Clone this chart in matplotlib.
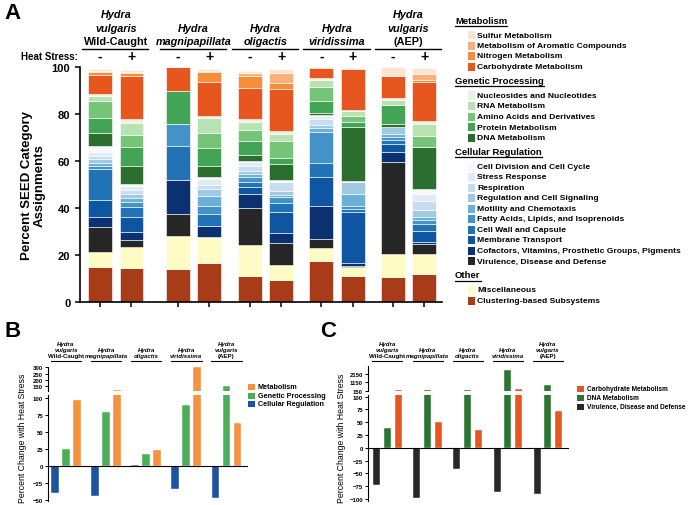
import numpy as np
import matplotlib
matplotlib.use('Agg')
import matplotlib.pyplot as plt
from matplotlib.patches import Rectangle
from matplotlib.lines import Line2D
from matplotlib.transforms import blended_transform_factory

plt.rcParams['font.family'] = ['Liberation Sans', 'DejaVu Sans']

# ---------------- data: panel A (percent of SEED assignments, bottom -> top) -------------
# bar order: WC -, WC +, mag -, mag +, olig -, olig +, vir -, vir +, AEP -, AEP +
clustering = [14.8, 14.5, 14.0, 16.6, 10.9, 9.5, 17.6, 10.9, 10.5, 11.9]
miscellaneous = [6.3, 8.8, 14.2, 10.9, 13.5, 6.4, 5.2, 3.9, 9.9, 8.5]
virulence = [10.7, 3.1, 9.2, 0.0, 15.5, 9.2, 4.0, 0.7, 39.0, 4.3]
cofactors = [4.2, 3.2, 14.7, 5.0, 6.1, 4.3, 14.2, 1.0, 4.6, 0.7]
membrane = [7.5, 6.4, 0.0, 0.0, 2.8, 8.8, 12.0, 21.7, 3.2, 5.0]
cell_wall = [13.1, 4.3, 14.1, 4.9, 2.4, 3.9, 6.1, 1.3, 1.8, 2.8]
fatty_acids = [1.1, 2.1, 9.5, 3.6, 1.8, 2.4, 13.4, 1.5, 1.1, 1.8]
motility = [1.4, 1.7, 0.0, 4.2, 1.5, 1.0, 1.4, 5.0, 1.4, 1.0]
regulation = [1.8, 1.9, 0.0, 2.9, 1.4, 1.9, 1.4, 4.9, 2.8, 3.3]
respiration = [1.4, 1.8, 0.0, 1.7, 2.1, 3.5, 2.6, 0.0, 0.0, 3.8]
stress = [1.4, 1.4, 0.0, 2.5, 1.4, 0.7, 1.1, 0.0, 0.0, 2.9]
cell_division = [2.5, 1.0, 0.0, 0.7, 0.7, 0.5, 0.6, 0.6, 0.0, 2.1]
dna_met = [5.7, 7.8, 0.0, 4.7, 2.5, 6.6, 0.7, 22.8, 1.4, 17.7]
protein_met = [6.3, 7.8, 14.2, 7.7, 6.1, 2.6, 5.4, 2.4, 8.1, 0.0]
amino_acids = [7.5, 5.3, 0.0, 6.5, 4.6, 7.4, 5.6, 2.6, 0.0, 5.0]
rna_met = [1.8, 4.9, 0.0, 6.3, 3.2, 2.8, 3.3, 2.1, 2.3, 4.9]
nucleosides = [1.2, 1.9, 0.0, 0.8, 1.4, 1.4, 0.6, 0.4, 0.6, 1.5]
carbohydrate = [8.0, 18.1, 10.0, 14.5, 13.0, 17.7, 4.2, 17.3, 9.3, 16.6]
nitrogen = [1.0, 1.4, 0.0, 4.2, 5.1, 2.6, 0.2, 0.2, 0.0, 0.8]
aromatic = [0.7, 0.6, 0.0, 0.7, 1.4, 4.2, 0.2, 0.2, 0.0, 2.4]
sulfur = [0.8, 0.8, 0.0, 0.7, 1.0, 1.7, 0.2, 0.1, 3.9, 2.4]

seg_names = ['Clustering-based Subsystems', 'Miscellaneous',
             'Virulence, Disease and Defense',
             'Cofactors, Vitamins, Prosthetic Groups, Pigments',
             'Membrane Transport', 'Cell Wall and Capsule',
             'Fatty Acids, Lipids, and Isoprenoids', 'Motility and Chemotaxis',
             'Regulation and Cell Signaling', 'Respiration', 'Stress Response',
             'Cell Division and Cell Cycle', 'DNA Metabolism', 'Protein Metabolism',
             'Amino Acids and Derivatives', 'RNA Metabolism',
             'Nucleosides and Nucleotides', 'Carbohydrate Metabolism',
             'Nitrogen Metabolism', 'Metabolism of Aromatic Compounds',
             'Sulfur Metabolism']
seg_values = [clustering, miscellaneous, virulence, cofactors, membrane, cell_wall,
              fatty_acids, motility, regulation, respiration, stress, cell_division,
              dna_met, protein_met, amino_acids, rna_met, nucleosides, carbohydrate,
              nitrogen, aromatic, sulfur]
seg_colors = ['#a83b18', '#fffbc4', '#262626', '#0b3170', '#0f56a2', '#2272b6',
              '#4493c8', '#6cafd7', '#9fcae1', '#c7dcef', '#dfebf7', '#f5f9fe',
              '#2b6e2f', '#42a454', '#75c477', '#b9e2b2', '#e6f5e1', '#e8561f',
              '#f58d3c', '#fab07a', '#fde3d0']

legend_groups = [('Metabolism', ['Sulfur Metabolism', 'Metabolism of Aromatic Compounds',
                                 'Nitrogen Metabolism', 'Carbohydrate Metabolism']),
                 ('Genetic Processing', ['Nucleosides and Nucleotides', 'RNA Metabolism',
                                         'Amino Acids and Derivatives', 'Protein Metabolism',
                                         'DNA Metabolism']),
                 ('Cellular Regulation', ['Cell Division and Cell Cycle', 'Stress Response',
                                          'Respiration', 'Regulation and Cell Signaling',
                                          'Motility and Chemotaxis',
                                          'Fatty Acids, Lipids, and Isoprenoids',
                                          'Cell Wall and Capsule', 'Membrane Transport',
                                          'Cofactors, Vitamins, Prosthetic Groups, Pigments',
                                          'Virulence, Disease and Defense']),
                 ('Other', ['Miscellaneous', 'Clustering-based Subsystems'])]

species_lines = [[('Hydra', 'italic'), ('vulgaris', 'italic'), ('Wild-Caught', 'normal')],
                 [('Hydra', 'italic'), ('magnipapillata', 'italic')],
                 [('Hydra', 'italic'), ('oligactis', 'italic')],
                 [('Hydra', 'italic'), ('viridissima', 'italic')],
                 [('Hydra', 'italic'), ('vulgaris', 'italic'), ('(AEP)', 'normal')]]
heat_signs = ['-', '+']

# ---------------- data: panel B / C (percent change with heat stress) -------------
b_cell_reg = [-39.5, -45, 1, -34, -48]
b_genetic = [24, 79, 18, 90, 150]
b_metabolism = [96, 118, 23, 300, 63]

c_virulence = [-72, -99, -42, -87, -90]
c_dna = [39, 270, 180, 2620, 850]
c_carb = [180, 50, 35, 280, 72]

W, H = 689, 506
fig = plt.figure(figsize=(W / 100, H / 100), dpi=100)


def px_axes(l, t, r, b):
    return fig.add_axes([l / W, 1 - b / H, (r - l) / W, (b - t) / H])


def ftext(x, y, s, **kw):
    return fig.text(x / W, 1 - y / H, s, **kw)


def fline(x0, x1, y, lw=1.0):
    fig.add_artist(Line2D([x0 / W, x1 / W], [1 - y / H, 1 - y / H], color='black', lw=lw))


# ================= Panel A =================
axA = px_axes(80, 68, 442, 303)
pair_x = np.array([0, 2.47, 4.76, 7.03, 9.3])
xA = np.ravel(np.column_stack([pair_x, pair_x + 1]))
bottom = np.zeros(10)
for vals, col in zip(seg_values, seg_colors):
    axA.bar(xA, vals, width=0.76, bottom=bottom, color=col, edgecolor='white', linewidth=0.4)
    bottom += np.array(vals)
axA.set_xlim(-0.635, 10.86)
axA.set_ylim(0, 100)
axA.spines['top'].set_visible(False)
axA.spines['right'].set_visible(False)
for s in ['left', 'bottom']:
    axA.spines[s].set_linewidth(1.2)
axA.set_yticks([0, 20, 40, 60, 80, 100])
axA.set_xticks(xA)
axA.set_xticklabels([])
axA.tick_params(axis='both', width=1.1, length=3.5)
for lab in axA.get_yticklabels():
    lab.set_fontweight('bold')
    lab.set_fontsize(8)
axA.set_ylabel('Percent SEED Category\nAssignments', fontsize=9.5, fontweight='bold',
               labelpad=4, linespacing=1.1)

trA = blended_transform_factory(axA.transData, fig.transFigure)
for i, px in enumerate(pair_x):
    cx = px + 0.5
    lines = species_lines[i]
    for k, (txt, sty) in enumerate(lines[::-1]):
        y = 42 - k * 13.5
        fig.text(cx, 1 - y / H, txt, transform=trA, ha='center', va='center',
                 fontsize=7.8, fontweight='bold', fontstyle=sty)
    axA.plot([px - 0.57, px + 1.53], [1 - 50 / H] * 2, transform=trA, color='black',
             lw=1.0, clip_on=False)
    for j, s in enumerate(heat_signs):
        fig.text(px + j, 1 - 57 / H, s, transform=trA, ha='center', va='center',
                 fontsize=10, fontweight='bold')
ftext(78, 57, 'Heat Stress:', ha='right', va='center', fontsize=7, fontweight='bold')

# legend A
color_of = dict(zip(seg_names, seg_colors))
headers = []
y = 21
for gi, (head, items) in enumerate(legend_groups):
    t = ftext(455, y, head, ha='left', va='center', fontsize=6.8, fontweight='bold')
    headers.append((t, y))
    y += 15
    for it in items:
        fig.add_artist(Rectangle((468 / W, 1 - (y + 4) / H), 7 / W, 8 / H,
                                 transform=fig.transFigure, facecolor=color_of[it],
                                 edgecolor='none'))
        ftext(477, y, it, ha='left', va='center', fontsize=6.1, fontweight='bold')
        y += 10.5
    y += 3.5

fig.canvas.draw()
rend = fig.canvas.get_renderer()
for t, yy in headers:
    bb = t.get_window_extent(rend)
    fline(bb.x0, bb.x1, yy + 5.5, lw=0.9)

ftext(4, 3, 'A', ha='left', va='top', fontsize=16, fontweight='bold')


# ================= Panels B & C =================
def broken_panel(l, r, unit, x0, group_step, series, colors, low_lim, up_lim,
                 low_ticks, up_ticks, up_top, legend_x, legend_labels, legend_y, width,
                 legend_fs):
    xlim = (-(x0 - l) / unit, (r - l) / unit - (x0 - l) / unit)
    low = px_axes(l, 396, r, 501.5)
    up = px_axes(l, up_top, r, 392)
    gx = np.arange(5) * group_step
    for ax in (low, up):
        for j, (vals, col) in enumerate(zip(series, colors)):
            ax.bar(gx + j, vals, width=width, color=col, edgecolor='white', linewidth=0.3)
        ax.set_xlim(*xlim)
        ax.spines['top'].set_visible(False)
        ax.spines['right'].set_visible(False)
        ax.spines['left'].set_linewidth(0.8)
        ax.set_xticks([])
        ax.tick_params(axis='y', width=0.7, length=2, pad=1.5, labelsize=4.3)
    low.set_ylim(*low_lim)
    up.set_ylim(*up_lim)
    low.set_yticks(low_ticks)
    up.set_yticks(up_ticks)
    up.spines['bottom'].set_visible(False)
    low.spines['bottom'].set_position(('data', 0))
    low.spines['bottom'].set_linewidth(0.8)
    for ax in (low, up):
        for lab in ax.get_yticklabels():
            lab.set_fontweight('bold')
    tr = blended_transform_factory(low.transData, fig.transFigure)
    for i in range(5):
        cx = gx[i] + 1
        lines = species_lines[i]
        for k, (txt, sty) in enumerate(lines[::-1]):
            yy = 356.5 - k * 6.2
            fig.text(cx, 1 - yy / H, txt, transform=tr, ha='center', va='center',
                     fontsize=4.4, fontweight='bold', fontstyle=sty)
        low.plot([cx - 1.4, cx + 1.4], [1 - 362.3 / H] * 2, transform=tr, color='black',
                 lw=0.8, clip_on=False)
    for k, (lab, col) in enumerate(zip(legend_labels, legend_y[1])):
        yy = legend_y[0][k]
        fig.add_artist(Rectangle((legend_x / W, 1 - (yy + 3) / H), 7 / W, 6 / H,
                                 transform=fig.transFigure, facecolor=col, edgecolor='none'))
        ftext(legend_x + 10, yy, lab, ha='left', va='center', fontsize=legend_fs,
              fontweight='bold')
    return low, up


broken_panel(48, 247, 11.0, 55, 3.64,
             [b_cell_reg, b_genetic, b_metabolism], ['#1c54a0', '#4cae5b', '#f4923f'],
             (-51, 104), (113, 300), [-50, -25, 0, 25, 50, 75, 100], [150, 200, 250, 300],
             368.3, 247.5, ['Metabolism', 'Genetic Processing', 'Cellular Regulation'],
             ([388, 396.5, 405], ['#f4923f', '#4cae5b', '#1c54a0']), 0.66, 5.2)
ftext(23, 438, 'Percent Change with Heat Stress', rotation=90, ha='center', va='center',
      fontsize=6.3)
ftext(4, 321, 'B', ha='left', va='top', fontsize=16, fontweight='bold')

broken_panel(368, 568, 10.7, 376.7, 3.75,
             [c_virulence, c_dna, c_carb], ['#282828', '#2c7631', '#e8561f'],
             (-103, 103), (100, 3100), [-100, -75, -50, -25, 0, 25, 50, 75, 100],
             [150, 1150, 2150],
             366.5, 577, ['Carbohydrate Metabolism', 'DNA Metabolism',
                          'Virulence, Disease and Defense'],
             ([390, 398.7, 407.5], ['#e8561f', '#2c7631', '#282828']), 0.65, 4.7)
ftext(342, 438, 'Percent Change with Heat Stress', rotation=90, ha='center', va='center',
      fontsize=6.3)
ftext(320, 321, 'C', ha='left', va='top', fontsize=16, fontweight='bold')

fig.savefig('out.png', dpi=100)
